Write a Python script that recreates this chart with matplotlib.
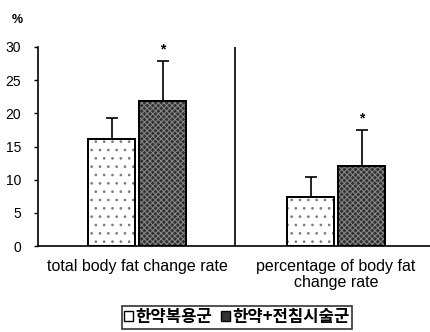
import matplotlib
matplotlib.use("Agg")
import matplotlib.pyplot as plt
from matplotlib.patches import Patch
import numpy as np

# Data
categories = ["total body fat change rate", "percentage of body fat\nchange rate"]
herb_only = [16.1, 7.4]          # 한약복용군
herb_only_sd = [3.2, 3.0]
herb_acu = [21.9, 12.0]          # 한약+전침시술군
herb_acu_sd = [6.0, 5.5]
significant = [True, True]
series_names = ["한약복용군", "한약+전침시술군"]
yticks = [0, 5, 10, 15, 20, 25, 30]

plt.rcParams["hatch.linewidth"] = 0.7

W, H = 431, 332
fig = plt.figure(figsize=(W / 100, H / 100), dpi=100)
ax = fig.add_axes([38 / W, 1 - 246 / H, (431 - 38) / W, (246 - 47) / H])

x = np.arange(len(categories))
bw = 0.236
off = 0.128

# light dotted bars
ax.bar(x - off, herb_only, bw, color="white", edgecolor="black", linewidth=1.4, zorder=2)
ax.bar(x - off, herb_only, bw, fill=False, hatch="..", edgecolor="#7a7a7a", linewidth=0, zorder=2)
ax.bar(x - off, herb_only, bw, fill=False, edgecolor="black", linewidth=1.4, zorder=3)
# dark textured bars
ax.bar(x + off, herb_acu, bw, color="#333333", edgecolor="black", linewidth=1.4, zorder=2)
ax.bar(x + off, herb_acu, bw, fill=False, hatch="xxxxxx", edgecolor="#8a8a8a", linewidth=0, zorder=2)
ax.bar(x + off, herb_acu, bw, fill=False, edgecolor="black", linewidth=1.4, zorder=3)

# upper error bars only
ax.errorbar(x - off, herb_only, yerr=[np.zeros(2), herb_only_sd], fmt="none",
            ecolor="black", elinewidth=1.2, capsize=4, capthick=1.2, zorder=1)
ax.errorbar(x + off, herb_acu, yerr=[np.zeros(2), herb_acu_sd], fmt="none",
            ecolor="black", elinewidth=1.2, capsize=4, capthick=1.2, zorder=1)

for xi, v, s, sig in zip(x, herb_acu, herb_acu_sd, significant):
    if sig:
        ax.text(xi + off, v + s + 0.6, "*", ha="center", va="bottom",
                fontsize=10, fontweight="bold", family="Liberation Sans")

# divider between groups
ax.axvline(0.49, ymin=0, ymax=1.0, color="black", linewidth=1.2)

ax.set_xlim(-0.5, 1.477)
ax.set_ylim(0, 30)
ax.set_yticks(yticks)
ax.set_yticklabels([str(t) for t in yticks], fontsize=10, family="Liberation Sans")
ax.tick_params(axis="y", direction="out", length=3, width=1, pad=9)
ax.set_xticks([])
for side in ["top", "right"]:
    ax.spines[side].set_visible(False)
ax.spines["left"].set_linewidth(1.2)
ax.spines["bottom"].set_linewidth(1.2)

# category labels
for xi, lab in zip(x, categories):
    ax.text(xi, -1.9, lab, ha="center", va="top", fontsize=11.5,
            family="Liberation Sans", transform=ax.transData, linespacing=1.15)

fig.text(12 / W, 1 - 20 / H, "%", ha="left", va="center", fontsize=9,
         fontweight="bold", family="Liberation Sans")

handles = [Patch(facecolor="white", edgecolor="black", linewidth=1),
           Patch(facecolor="#333333", edgecolor="black", linewidth=1)]
leg = fig.legend(handles, series_names, loc="center", bbox_to_anchor=(237 / W, 1 - 317 / H),
                 ncol=2, fancybox=False, frameon=True, edgecolor="black",
                 handlelength=0.55, handleheight=0.55, handletextpad=0.15, columnspacing=0.5,
                 borderpad=0.15, borderaxespad=0,
                 prop={"family": ["Noto Sans CJK KR", "DejaVu Sans"], "size": 12, "weight": "bold"})
leg.get_frame().set_linewidth(1.2)

fig.savefig("out.png", dpi=100)
